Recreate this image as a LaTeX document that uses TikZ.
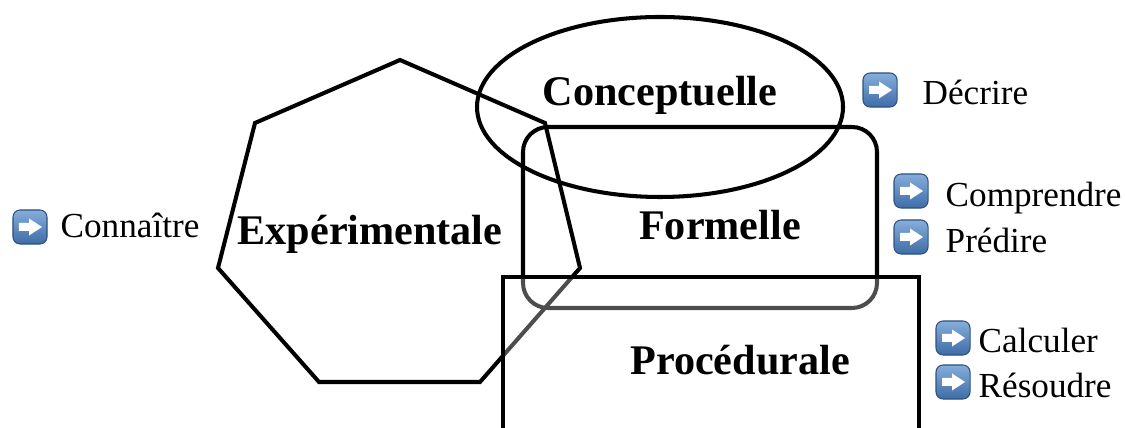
\documentclass[tikz,border=0pt]{standalone}
\usepackage{fontspec}
\setmainfont{Liberation Serif}
\definecolor{iconhaut}{HTML}{86AEDB}
\definecolor{iconbas}{HTML}{3E6CA7}
\tikzset{
  contour/.style={line width=1.15pt,black},
  titre/.style={font=\fontsize{12}{14}\selectfont\bfseries,inner sep=0pt,anchor=base},
  verbe/.style={font=\fontsize{10}{12}\selectfont,inner sep=0pt,anchor=base west},
  icone/.style={minimum size=.34cm,inner sep=0pt,rounded corners=2pt,
    top color=iconhaut,bottom color=iconbas,draw=iconbas!75!black,line width=.3pt,
    path picture={\fill[white,sharp corners,shift={(path picture bounding box.center)}]
      (-.11cm,-.04cm) -- (-.01cm,-.04cm) -- (-.01cm,-.085cm) -- (.12cm,0) -- (-.01cm,.085cm) -- (-.01cm,.04cm) -- (-.11cm,.04cm) -- cycle;}}
}

\begin{document}
\begin{tikzpicture}[x=.01cm,y=-.01cm]
    \clip (0,0) rectangle (1125,428);
    % les quatre formes
    \draw[contour] (400,60) -- (545,123) -- (580,268) -- (480,382) -- (319,382) -- (218,268) -- (255,123) -- cycle;
    \draw[contour] (660,107) ellipse [x radius=183,y radius=90];
    \draw[contour,rounded corners=.25cm] (523,127) rectangle (877,308);
    \draw[contour,fill=white,fill opacity=.3] (503,277) rectangle (919,460);
    \node[titre] (exper) at (370,245) {Expérimentale};
    \node[titre] (concept) at (660,106) {Conceptuelle};
    \node[titre] (formel) at (720,240) {Formelle};
    \node[titre] (proced) at (740,375) {Procédurale};
    % les verbes
    \foreach \n/\ix/\iy/\tx/\ty/\txt in {1/880/90/922/105/Décrire,2/911/191/945/207/Comprendre,
        3/911/237/945/253/Prédire,4/30/227/60/238/Connaître,5/953/338/978/353/Calculer,6/953/382/978/398/Résoudre} {
      \node[icone] (ic\n) at (\ix,\iy) {};
      \node[verbe] (vb\n) at (\tx,\ty) {\txt};
    }
  \end{tikzpicture}
\end{document}
